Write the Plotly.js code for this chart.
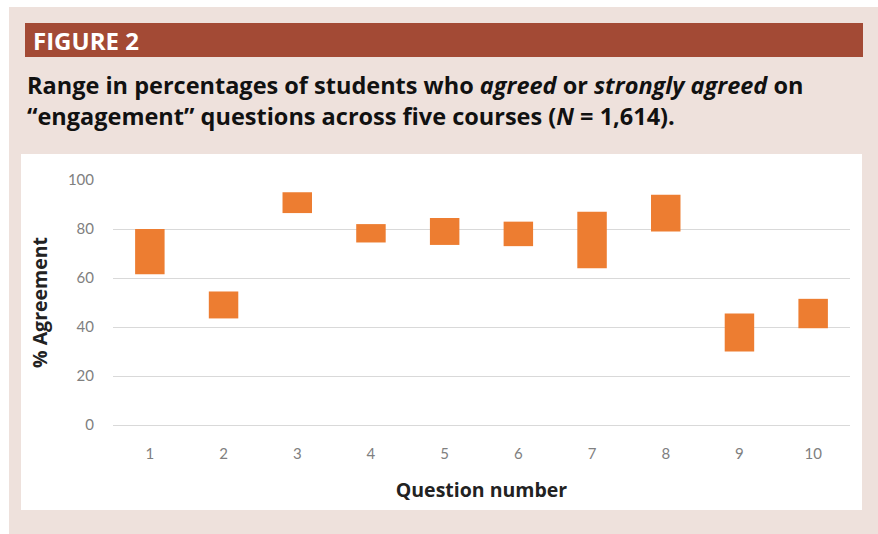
<!DOCTYPE html>
<html>
<head>
<meta charset="utf-8">
<script src="https://cdn.plot.ly/plotly-3.0.1.min.js"></script>
<style>html,body{margin:0;padding:0;background:#fff;}#chart{width:878px;height:534px;}</style>
</head>
<body>
<div id="chart"></div>
<script>
// Data
var questions = ['1','2','3','4','5','6','7','8','9','10'];
var lowPct  = [61.5, 43.5, 86.5, 74.5, 73.5, 73, 64, 79, 30, 39.5];
var highPct = [80, 54.5, 95, 82, 84.5, 83, 87, 94, 45.5, 51.5];
var yTicks = [0, 20, 40, 60, 80, 100];

var span = highPct.map(function(h, i){ return h - lowPct[i]; });

var trace = {
  type: 'bar',
  x: questions,
  y: span,
  base: lowPct,
  width: 0.4,
  marker: {color: '#ED7D31', line: {width: 0}},
  hoverinfo: 'skip'
};

// plot area: px x 113..850, y 180..425
var L = 113, R = 850, T = 180, B = 425;
var W = R - L, H = B - T;
function px(x){ return (x - L) / W; }
function py(y){ return (B - y) / H; }

var titleFont = {family: '"Open Sans", "Noto Sans", sans-serif', size: 23.5, color: '#111'};

var layout = {
  width: 878, height: 534,
  margin: {l: L, r: 878 - R, t: T, b: 534 - B, pad: 0},
  paper_bgcolor: '#ffffff',
  plot_bgcolor: 'rgba(0,0,0,0)',
  showlegend: false,
  xaxis: {
    type: 'category',
    showgrid: false, zeroline: false, showline: false,
    ticks: '',
    ticklabelstandoff: 18,
    tickfont: {family: 'Lato, "Open Sans", sans-serif', size: 15, color: '#808080'},
    title: {text: '<b>Question number</b>', font: {family: '"Open Sans", sans-serif', size: 19.5, color: '#222'}, standoff: 22}
  },
  yaxis: {
    range: [0, 100],
    tickvals: yTicks,
    showgrid: true, gridcolor: '#D9D9D9', gridwidth: 1,
    zeroline: true, zerolinecolor: '#D9D9D9', zerolinewidth: 1,
    showline: false, ticks: '',
    ticklabelstandoff: 18,
    tickfont: {family: 'Lato, "Open Sans", sans-serif', size: 15, color: '#808080'},
    title: {text: '<b>% Agreement</b>', font: {family: '"Open Sans", sans-serif', size: 19.5, color: '#222'}, standoff: 15}
  },
  shapes: [
    {type: 'rect', xref: 'paper', yref: 'paper', layer: 'below',
     x0: px(9), x1: px(880), y0: py(536), y1: py(7),
     fillcolor: '#EEE1DC', line: {width: 0}},
    {type: 'rect', xref: 'paper', yref: 'paper', layer: 'below',
     x0: px(25), x1: px(863), y0: py(57), y1: py(23),
     fillcolor: '#A34A35', line: {width: 0}},
    {type: 'rect', xref: 'paper', yref: 'paper', layer: 'below',
     x0: px(21), x1: px(862), y0: py(510), y1: py(154),
     fillcolor: '#FFFFFF', line: {width: 0}}
  ],
  annotations: [
    {xref: 'paper', yref: 'paper', x: px(31), y: py(40), xanchor: 'left', yanchor: 'middle',
     showarrow: false, text: '<b>FIGURE 2</b>',
     font: {family: '"Open Sans", sans-serif', size: 24, color: '#ffffff'}},
    {xref: 'paper', yref: 'paper', x: px(25), y: py(100), xanchor: 'left', yanchor: 'middle',
     align: 'left', showarrow: false,
     text: '<b>Range in percentages of students who <i>agreed</i> or <i>strongly agreed</i> on<br>“engagement” questions across five courses (<i>N</i> = 1,614).</b>',
     font: titleFont}
  ]
};

Plotly.newPlot('chart', [trace], layout, {displayModeBar: false, staticPlot: true});
</script>
</body>
</html>
